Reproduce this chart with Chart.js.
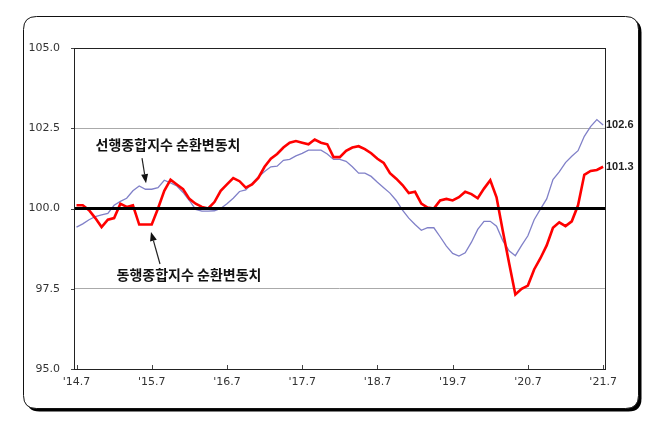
<!DOCTYPE html>
<html><head><meta charset="utf-8">
<script src="https://cdn.jsdelivr.net/npm/chart.js@4.4.0/dist/chart.umd.min.js"></script>
<style>html,body{margin:0;padding:0;background:#fff;}#wrap{width:670px;height:423px;position:relative;}</style>
</head><body><div id="wrap"><canvas id="c" width="670" height="423"></canvas></div>
<script>
// ---- data ----
const TICK_LABELS = ["'14.7","'15.7","'16.7","'17.7","'18.7","'19.7","'20.7","'21.7"];
const TICK_INDEX = [0,12,24,36,48,60,72,84];
const Y_TICKS = [95,97.5,100,102.5,105];
const BASELINE = 100;
const LEAD_NAME = '선행종합지수 순환변동치';
const COIN_NAME = '동행종합지수 순환변동치';
// 선행종합지수 순환변동치 (monthly, 2014.7 - 2021.7)
const LEADING = [
  99.42,99.52,99.65,99.75,99.8,99.85,100.1,100.22,100.32,100.55,100.7,100.6,
  100.6,100.65,100.88,100.8,100.7,100.5,100.25,99.97,99.92,99.92,99.93,100.0,
  100.15,100.32,100.53,100.58,100.78,100.98,101.15,101.3,101.32,101.5,101.53,101.64,
  101.72,101.82,101.82,101.82,101.7,101.53,101.53,101.47,101.3,101.1,101.1,101.0,
  100.82,100.65,100.48,100.25,99.95,99.7,99.5,99.32,99.4,99.4,99.12,98.83,
  98.6,98.52,98.62,98.95,99.35,99.6,99.6,99.45,99.0,98.68,98.53,98.85,
  99.15,99.65,99.98,100.3,100.9,101.14,101.43,101.63,101.8,102.25,102.55,102.77,
  102.6
];
// 동행종합지수 순환변동치
const COINCIDENT = [
  100.1,100.1,99.95,99.7,99.42,99.65,99.7,100.15,100.05,100.1,99.5,99.5,
  99.5,100.0,100.55,100.9,100.75,100.6,100.3,100.15,100.05,100.0,100.2,100.55,
  100.75,100.95,100.85,100.65,100.75,100.95,101.3,101.55,101.7,101.9,102.05,102.1,
  102.05,102.0,102.15,102.05,102.0,101.6,101.6,101.8,101.9,101.94,101.85,101.72,
  101.55,101.42,101.1,100.93,100.73,100.48,100.52,100.15,100.03,100.0,100.25,100.3,
  100.25,100.35,100.52,100.45,100.32,100.62,100.88,100.35,99.3,98.3,97.32,97.5,
  97.6,98.1,98.45,98.85,99.4,99.57,99.45,99.6,100.1,101.05,101.17,101.2,
  101.3
];

// ---- annotation anchors (data coordinates) ----
const LEAD_TEXT_AT = {x:14.6, y:101.98};
const LEAD_ARROW = [{x:10.45, y:101.57},{x:11.09, y:100.79}];
const COIN_TEXT_AT = {x:17.94, y:97.94};
const COIN_ARROW = [{x:13.32, y:98.27},{x:11.88, y:99.27}];

function roundRect(ctx,x,y,w,h,r){
  ctx.beginPath();
  ctx.moveTo(x+r,y);ctx.lineTo(x+w-r,y);ctx.quadraticCurveTo(x+w,y,x+w,y+r);
  ctx.lineTo(x+w,y+h-r);ctx.quadraticCurveTo(x+w,y+h,x+w-r,y+h);
  ctx.lineTo(x+r,y+h);ctx.quadraticCurveTo(x,y+h,x,y+h-r);
  ctx.lineTo(x,y+r);ctx.quadraticCurveTo(x,y,x+r,y);ctx.closePath();
}
function arrow(ctx,x1,y1,x2,y2){
  ctx.save();
  ctx.strokeStyle='#222';ctx.fillStyle='#111';ctx.lineWidth=1.2;
  const a=Math.atan2(y2-y1,x2-x1), L=9, W=3.5;
  const bx=x2-L*Math.cos(a), by=y2-L*Math.sin(a);
  ctx.beginPath();ctx.moveTo(x1,y1);ctx.lineTo(bx,by);ctx.stroke();
  ctx.beginPath();ctx.moveTo(x2,y2);
  ctx.lineTo(bx+W*Math.sin(a),by-W*Math.cos(a));
  ctx.lineTo(bx-W*Math.sin(a),by+W*Math.cos(a));
  ctx.closePath();ctx.fill();
  ctx.restore();
}

const framePlugin = {
  id:'frame',
  beforeDraw(chart){
    const ctx=chart.ctx;
    ctx.save();
    ctx.fillStyle='#fff';ctx.fillRect(0,0,chart.width,chart.height);
    roundRect(ctx,26.5,19.5,615,392,13);ctx.fillStyle='#000';ctx.fill();
    roundRect(ctx,23.5,16.5,615,392,13);ctx.fillStyle='#fff';ctx.fill();
    ctx.strokeStyle='#111';ctx.lineWidth=1;ctx.stroke();
    ctx.restore();
  }
};
const decorPlugin = {
  id:'decor',
  afterDatasetsDraw(chart){
    const ctx=chart.ctx, a=chart.chartArea, xs=chart.scales.x, ys=chart.scales.y;
    ctx.save();
    // baseline
    const by=ys.getPixelForValue(BASELINE);
    ctx.strokeStyle='#000';ctx.lineWidth=3;
    ctx.beginPath();ctx.moveTo(a.left,by);ctx.lineTo(a.right,by);ctx.stroke();
    // plot border
    ctx.lineWidth=1;ctx.strokeStyle='#222';
    ctx.strokeRect(Math.round(a.left)+0.5,Math.round(a.top)+0.5,Math.round(a.right-a.left),Math.round(a.bottom-a.top));
    // tick marks
    ctx.strokeStyle='#444';
    TICK_INDEX.forEach(v=>{const x=Math.round(xs.getPixelForValue(v))+0.5;
      ctx.beginPath();ctx.moveTo(x,a.bottom);ctx.lineTo(x,a.bottom-4);ctx.stroke();});
    Y_TICKS.forEach(v=>{const y=Math.round(ys.getPixelForValue(v))+0.5;
      ctx.beginPath();ctx.moveTo(a.left-3,y);ctx.lineTo(a.left,y);ctx.stroke();});
    // annotations
    ctx.font="bold 14px 'Noto Sans CJK KR'";ctx.fillStyle='#111';
    ctx.textAlign='center';ctx.textBaseline='middle';
    ctx.fillText(LEAD_NAME,xs.getPixelForValue(LEAD_TEXT_AT.x),ys.getPixelForValue(LEAD_TEXT_AT.y));
    ctx.fillText(COIN_NAME,xs.getPixelForValue(COIN_TEXT_AT.x),ys.getPixelForValue(COIN_TEXT_AT.y));
    arrow(ctx,xs.getPixelForValue(LEAD_ARROW[0].x),ys.getPixelForValue(LEAD_ARROW[0].y),
              xs.getPixelForValue(LEAD_ARROW[1].x),ys.getPixelForValue(LEAD_ARROW[1].y));
    arrow(ctx,xs.getPixelForValue(COIN_ARROW[0].x),ys.getPixelForValue(COIN_ARROW[0].y),
              xs.getPixelForValue(COIN_ARROW[1].x),ys.getPixelForValue(COIN_ARROW[1].y));
    // end labels
    ctx.font="bold 11px 'Liberation Sans'";ctx.fillStyle='#222';ctx.textAlign='left';
    const lastL=LEADING[LEADING.length-1], lastC=COINCIDENT[COINCIDENT.length-1];
    ctx.fillText(lastL.toFixed(1),a.right+1,ys.getPixelForValue(lastL));
    ctx.fillText(lastC.toFixed(1),a.right+1,ys.getPixelForValue(lastC));
    ctx.restore();
  }
};

new Chart(document.getElementById('c'),{
  type:'line',
  data:{datasets:[
    {label:COIN_NAME,data:COINCIDENT.map((v,i)=>({x:i,y:v})),borderColor:'#ff0000',borderWidth:2.6,
     pointRadius:0,tension:0,fill:false,order:0},
    {label:LEAD_NAME,data:LEADING.map((v,i)=>({x:i,y:v})),borderColor:'#8080c8',borderWidth:1.3,
     pointRadius:0,tension:0,fill:false,order:1}
  ]},
  options:{
    responsive:false,animation:false,devicePixelRatio:1,
    layout:{padding:{left:0,right:65,top:48,bottom:24}},
    plugins:{legend:{display:false},tooltip:{enabled:false}},
    scales:{
      x:{type:'linear',min:-0.4,max:84.3,
        afterBuildTicks:s=>{s.ticks=TICK_INDEX.map(v=>({value:v}));},
        afterFit:s=>{s.height=30;},
        ticks:{autoSkip:false,maxRotation:0,padding:7,color:'#333',
          font:{family:'DejaVu Sans',size:11},
          callback:v=>TICK_LABELS[TICK_INDEX.indexOf(v)]},
        grid:{display:false,drawTicks:false},border:{display:false}},
      y:{min:95,max:105,
        afterBuildTicks:s=>{s.ticks=Y_TICKS.map(v=>({value:v}));},
        afterFit:s=>{s.width=74;},
        ticks:{padding:14,color:'#333',font:{family:'DejaVu Sans',size:11},
          callback:v=>Number(v).toFixed(1)},
        grid:{drawTicks:false,lineWidth:1,
          color:c=>(c.tick&&(c.tick.value===97.5||c.tick.value===102.5))?'#aaaaaa':'rgba(0,0,0,0)'},
        border:{display:false}}
    }
  },
  plugins:[framePlugin,decorPlugin]
});
</script></body></html>
